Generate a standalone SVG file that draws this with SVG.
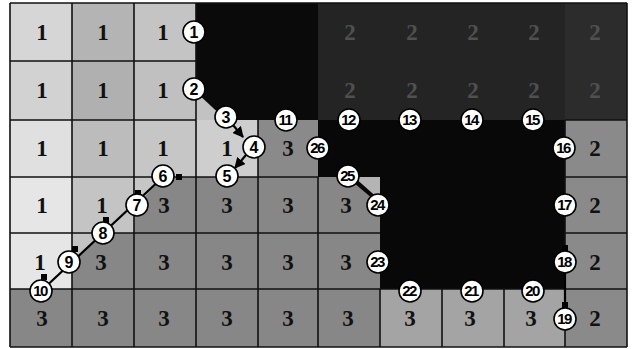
<svg xmlns="http://www.w3.org/2000/svg" width="632" height="349" viewBox="0 0 632 349">
<defs>
<style>
.lbl{font-family:"Liberation Serif","Times New Roman",serif;font-weight:bold;font-size:23px;text-anchor:middle;fill:#111}
.lbl2{font-family:"Liberation Serif","Times New Roman",serif;font-weight:bold;font-size:23px;text-anchor:middle;fill:#505050}
.grid{stroke:#111;stroke-width:1.6;fill:none}
.node circle{fill:#fff;stroke:#000;stroke-width:1.6}
.node text{font-family:"Liberation Sans",Arial,sans-serif;font-weight:bold;font-size:16px;text-anchor:middle;fill:#000}
.node text.d2{font-size:15px;letter-spacing:-1.5px}
.conn{stroke:#000;stroke-width:2.2;fill:none}
.sq{fill:#000}
</style>
<marker id="arr" viewBox="0 0 10 10" refX="9" refY="5" markerWidth="5" markerHeight="5" orient="auto">
<path d="M0,0 L10,5 L0,10 z" fill="#000"/>
</marker>
</defs>
<rect width="632" height="349" fill="#fff"/>
<g id="cells">
<rect x="10" y="3" width="62" height="58" fill="#d6d6d6"/>
<rect x="72" y="3" width="62" height="58" fill="#b4b4b4"/>
<rect x="134" y="3" width="62" height="58" fill="#c4c4c4"/>
<rect x="196" y="3" width="122" height="117" fill="#0a0a0a"/>
<rect x="318" y="3" width="247" height="117" fill="#242424"/>
<rect x="565" y="3" width="62" height="117" fill="#2c2c2c"/>
<rect x="10" y="61" width="62" height="59" fill="#d2d2d2"/>
<rect x="72" y="61" width="62" height="59" fill="#b0b0b0"/>
<rect x="134" y="61" width="62" height="59" fill="#c0c0c0"/>
<rect x="10" y="120" width="62" height="57" fill="#e0e0e0"/>
<rect x="72" y="120" width="62" height="57" fill="#bcbcbc"/>
<rect x="134" y="120" width="62" height="57" fill="#c6c6c6"/>
<rect x="196" y="120" width="62" height="57" fill="#cecece"/>
<rect x="258" y="120" width="60" height="57" fill="#8a8a8a"/>
<rect x="565" y="120" width="62" height="227" fill="#8a8a8a"/>
<rect x="10" y="177" width="62" height="112" fill="#e6e6e6"/>
<rect x="72" y="177" width="62" height="56" fill="#c4c4c4"/>
<rect x="134" y="177" width="246" height="56" fill="#878787"/>
<rect x="72" y="233" width="308" height="56" fill="#878787"/>
<rect x="10" y="289" width="370" height="58" fill="#878787"/>
<rect x="380" y="289" width="185" height="58" fill="#a4a4a4"/>
<polygon points="318,120 565,120 565,289 380,289 380,205 347,177 318,177" fill="#080808"/>
<polygon points="196,92 196,120 226,120" fill="#c2c2c2"/>
<polygon points="134,177 163,177 134,208" fill="#c6c6c6"/>
<polygon points="72,233 103,233 72,262" fill="#c4c4c4"/>
<polygon points="354,177 380,177 380,200" fill="#b4b4b4"/>
</g>
<g id="grid" class="grid">
<line x1="10" y1="3" x2="10" y2="347"/>
<line x1="72" y1="3" x2="72" y2="347"/>
<line x1="134" y1="3" x2="134" y2="347"/>
<line x1="196" y1="3" x2="196" y2="347"/>
<line x1="258" y1="120" x2="258" y2="347"/>
<line x1="318" y1="177" x2="318" y2="347"/>
<line x1="380" y1="289" x2="380" y2="347"/>
<line x1="442" y1="289" x2="442" y2="347"/>
<line x1="504" y1="289" x2="504" y2="347"/>
<line x1="565" y1="120" x2="565" y2="347"/>
<line x1="627" y1="3" x2="627" y2="347"/>
<line x1="10" y1="3" x2="627" y2="3"/>
<line x1="10" y1="61" x2="196" y2="61"/>
<line x1="10" y1="120" x2="196" y2="120"/>
<line x1="565" y1="120" x2="627" y2="120"/>
<line x1="10" y1="177" x2="318" y2="177"/>
<line x1="565" y1="177" x2="627" y2="177"/>
<line x1="10" y1="233" x2="380" y2="233"/>
<line x1="565" y1="233" x2="627" y2="233"/>
<line x1="10" y1="289" x2="627" y2="289"/>
<line x1="10" y1="347" x2="627" y2="347"/>
</g>
<g id="labels">
<text class="lbl" x="42" y="40">1</text>
<text class="lbl" x="103" y="40">1</text>
<text class="lbl" x="163" y="40">1</text>
<text class="lbl2" x="350" y="40">2</text>
<text class="lbl2" x="412" y="40">2</text>
<text class="lbl2" x="473" y="40">2</text>
<text class="lbl2" x="534" y="40">2</text>
<text class="lbl2" x="595" y="40">2</text>
<text class="lbl" x="42" y="98">1</text>
<text class="lbl" x="103" y="98">1</text>
<text class="lbl" x="163" y="98">1</text>
<text class="lbl2" x="350" y="98">2</text>
<text class="lbl2" x="412" y="98">2</text>
<text class="lbl2" x="473" y="98">2</text>
<text class="lbl2" x="534" y="98">2</text>
<text class="lbl2" x="595" y="98">2</text>
<text class="lbl" x="42" y="156">1</text>
<text class="lbl" x="103" y="156">1</text>
<text class="lbl" x="163" y="156">1</text>
<text class="lbl" x="227" y="156">1</text>
<text class="lbl" x="288" y="156">3</text>
<text class="lbl" x="595" y="156">2</text>
<text class="lbl" x="42" y="213">1</text>
<text class="lbl" x="102" y="213">1</text>
<text class="lbl" x="164" y="213">3</text>
<text class="lbl" x="227" y="213">3</text>
<text class="lbl" x="288" y="213">3</text>
<text class="lbl" x="346" y="213">3</text>
<text class="lbl" x="595" y="213">2</text>
<text class="lbl" x="40" y="270">1</text>
<text class="lbl" x="101" y="270">3</text>
<text class="lbl" x="164" y="270">3</text>
<text class="lbl" x="227" y="270">3</text>
<text class="lbl" x="288" y="270">3</text>
<text class="lbl" x="346" y="270">3</text>
<text class="lbl" x="595" y="270">2</text>
<text class="lbl" x="42" y="326">3</text>
<text class="lbl" x="103" y="326">3</text>
<text class="lbl" x="164" y="326">3</text>
<text class="lbl" x="227" y="326">3</text>
<text class="lbl" x="288" y="326">3</text>
<text class="lbl" x="348" y="326">3</text>
<text class="lbl" x="410" y="326">3</text>
<text class="lbl" x="470" y="326">3</text>
<text class="lbl" x="531" y="326">3</text>
<text class="lbl" x="595" y="326">2</text>
</g>
<g id="connectors">
<line class="conn" x1="233" y1="125" x2="243" y2="137" marker-end="url(#arr)"/>
<line class="conn" x1="246" y1="155" x2="235" y2="168" marker-end="url(#arr)"/>
<line class="conn" x1="163" y1="177" x2="40" y2="292"/>
<rect class="sq" x="176" y="174" width="6" height="6"/>
<rect class="sq" x="135" y="190" width="6" height="6"/>
<rect class="sq" x="103" y="217" width="6" height="6"/>
<rect class="sq" x="72" y="246" width="6" height="6"/>
<rect class="sq" x="41" y="274" width="6" height="6"/>
<line class="conn" x1="565" y1="248" x2="565" y2="318"/>
<rect class="sq" x="562" y="245" width="6" height="6"/>
<rect class="sq" x="562" y="302" width="6" height="6"/>
</g>
<g id="n1" class="node"><circle cx="194" cy="32" r="11"/><text x="194" y="38">1</text></g>
<g id="n2" class="node"><circle cx="194" cy="89" r="11"/><text x="194" y="95">2</text></g>
<g id="n3" class="node"><circle cx="226" cy="117" r="11"/><text x="226" y="123">3</text></g>
<g id="n4" class="node"><circle cx="254" cy="147" r="11"/><text x="254" y="153">4</text></g>
<g id="n5" class="node"><circle cx="227" cy="176" r="11"/><text x="227" y="182">5</text></g>
<g id="n6" class="node"><circle cx="163" cy="176" r="11"/><text x="163" y="182">6</text></g>
<g id="n7" class="node"><circle cx="137" cy="205" r="11"/><text x="137" y="211">7</text></g>
<g id="n8" class="node"><circle cx="103" cy="233" r="11"/><text x="103" y="239">8</text></g>
<g id="n9" class="node"><circle cx="69" cy="262" r="11"/><text x="69" y="268">9</text></g>
<g id="n10" class="node"><circle cx="41" cy="291" r="11"/><text class="d2" x="40" y="296">10</text></g>
<g id="n11" class="node"><circle cx="286" cy="120" r="11"/><text class="d2" x="285" y="125">11</text></g>
<g id="n12" class="node"><circle cx="349" cy="120" r="11"/><text class="d2" x="348" y="125">12</text></g>
<g id="n13" class="node"><circle cx="410" cy="120" r="11"/><text class="d2" x="409" y="125">13</text></g>
<g id="n14" class="node"><circle cx="472" cy="120" r="11"/><text class="d2" x="471" y="125">14</text></g>
<g id="n15" class="node"><circle cx="533" cy="120" r="11"/><text class="d2" x="532" y="125">15</text></g>
<g id="n16" class="node"><circle cx="564" cy="148" r="11"/><text class="d2" x="563" y="153">16</text></g>
<g id="n17" class="node"><circle cx="565" cy="205" r="11"/><text class="d2" x="564" y="210">17</text></g>
<g id="n18" class="node"><circle cx="565" cy="262" r="11"/><text class="d2" x="564" y="267">18</text></g>
<g id="n19" class="node"><circle cx="565" cy="319" r="11"/><text class="d2" x="564" y="324">19</text></g>
<g id="n20" class="node"><circle cx="533" cy="291" r="11"/><text class="d2" x="532" y="296">20</text></g>
<g id="n21" class="node"><circle cx="472" cy="291" r="11"/><text class="d2" x="471" y="296">21</text></g>
<g id="n22" class="node"><circle cx="410" cy="291" r="11"/><text class="d2" x="409" y="296">22</text></g>
<g id="n23" class="node"><circle cx="378" cy="262" r="11"/><text class="d2" x="377" y="267">23</text></g>
<g id="n24" class="node"><circle cx="378" cy="205" r="11"/><text class="d2" x="377" y="210">24</text></g>
<g id="n25" class="node"><circle cx="348" cy="176" r="11"/><text class="d2" x="347" y="181">25</text></g>
<g id="n26" class="node"><circle cx="318" cy="148" r="11"/><text class="d2" x="317" y="153">26</text></g>
</svg>
